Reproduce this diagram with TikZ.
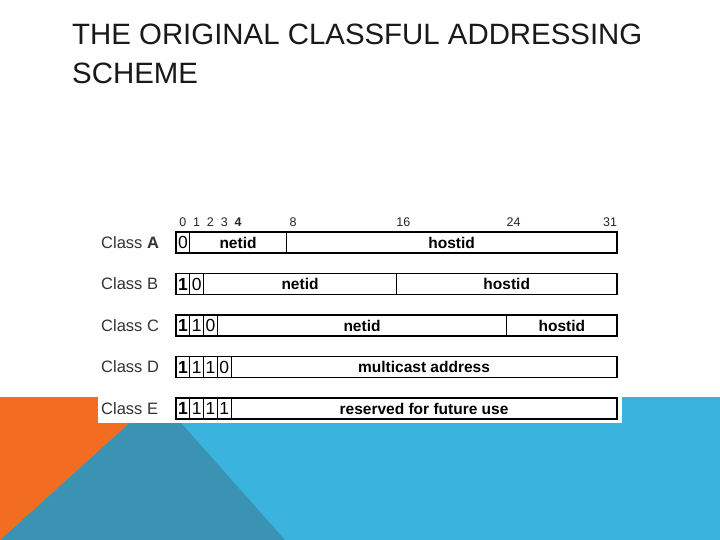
\documentclass[tikz,border=0pt]{standalone}
\usepackage{fontspec}
\setmainfont{Liberation Sans}
\definecolor{orng}{HTML}{F26D21}
\definecolor{tealb}{HTML}{3A93B3}
\definecolor{lblue}{HTML}{3BB3DF}
\begin{document}
\begin{tikzpicture}[x=1pt,y=-1pt,
  field/.style={font=\fontsize{15.5}{18}\selectfont\bfseries, inner sep=0pt},
  bitno/.style={font=\fontsize{17.5}{18}\selectfont, inner sep=0pt},
  bitb/.style={font=\fontsize{17.5}{18}\selectfont\bfseries, inner sep=0pt},
  cls/.style={anchor=west, inner sep=0pt, font=\fontsize{16.5}{18}\selectfont, text=black!80},
  bitpos/.style={font=\fontsize{12.5}{14}\selectfont, inner sep=0pt, text=black!85},
  ttl/.style={anchor=base west, inner sep=0pt, font=\fontsize{29.4}{39}\selectfont, text=black!90},
  boxline/.style={line width=1.3pt},
  divline/.style={line width=1pt}]
\useasboundingbox (0,0) rectangle (720,540);
\fill[white] (0,0) rectangle (720,540);
% background band
\fill[lblue] (0,397) rectangle (720,540);
\fill[tealb] (158,397) -- (285,540) -- (0,540) -- cycle;
\fill[orng] (0,397) -- (158,397) -- (0,540) -- cycle;
\fill[white] (98,200) rectangle (622,423);
% title
\node[ttl] (t1) at (72,45) {THE ORIGINAL CLASSFUL ADDRESSING};
\node[ttl] (t2) at (72,84) {SCHEME};
% class labels
\node[cls] (ca) at (101,242.5) {Class \textbf{A}};
\node[cls] (cb) at (101,284) {Class B};
\node[cls] (cc) at (101,325.5) {Class C};
\node[cls] (cd) at (101,367) {Class D};
\node[cls] (ce) at (101,408.5) {Class E};
\begin{scope}[shift={(176,0)}, x=13.78pt]
% bit positions
\node[bitpos] (p0) at (0.5,222) {0};
\node[bitpos] (p1) at (1.5,222) {1};
\node[bitpos] (p2) at (2.5,222) {2};
\node[bitpos] (p3) at (3.5,222) {3};
\node[bitpos,font=\fontsize{12.5}{14}\selectfont\bfseries] (p4) at (4.5,222) {4};
\node[bitpos] (p8) at (8.5,222) {8};
\node[bitpos] (p16) at (16.5,222) {16};
\node[bitpos] (p24) at (24.5,222) {24};
\node[bitpos] (p31) at (31.5,222) {31};
% Class A
\draw[boxline] (0,232) rectangle (32,253);
\draw[divline] (1,232) -- (1,253) (8,232) -- (8,253);
\node[bitno] (a0) at (0.5,242.5) {0};
\node[field] (anet) at (4.5,242.5) {netid};
\node[field] (ahost) at (20,242.5) {hostid};
% Class B
\draw[boxline] (0,273.5) rectangle (32,294.5);
\draw[divline] (1,273.5) -- (1,294.5) (2,273.5) -- (2,294.5) (16,273.5) -- (16,294.5);
\node[bitb] (b0) at (0.5,284) {1};
\node[bitno] (b1) at (1.5,284) {0};
\node[field] (bnet) at (9,284) {netid};
\node[field] (bhost) at (24,284) {hostid};
% Class C
\draw[boxline] (0,315) rectangle (32,336);
\draw[divline] (1,315) -- (1,336) (2,315) -- (2,336) (3,315) -- (3,336) (24,315) -- (24,336);
\node[bitb] (c0) at (0.5,325.5) {1};
\node[bitno] (c1) at (1.5,325.5) {1};
\node[bitno] (c2) at (2.5,325.5) {0};
\node[field] (cnet) at (13.5,325.5) {netid};
\node[field] (chost) at (28,325.5) {hostid};
% Class D
\draw[boxline] (0,356.5) rectangle (32,377.5);
\draw[divline] (1,356.5) -- (1,377.5) (2,356.5) -- (2,377.5) (3,356.5) -- (3,377.5) (4,356.5) -- (4,377.5);
\node[bitb] (d0) at (0.5,367) {1};
\node[bitno] (d1) at (1.5,367) {1};
\node[bitno] (d2) at (2.5,367) {1};
\node[bitno] (d3) at (3.5,367) {0};
\node[field] (dm) at (18,367) {multicast address};
% Class E
\draw[boxline] (0,398) rectangle (32,419);
\draw[divline] (1,398) -- (1,419) (2,398) -- (2,419) (3,398) -- (3,419) (4,398) -- (4,419);
\node[bitb] (e0) at (0.5,408.5) {1};
\node[bitno] (e1) at (1.5,408.5) {1};
\node[bitno] (e2) at (2.5,408.5) {1};
\node[bitno] (e3) at (3.5,408.5) {1};
\node[field] (er) at (18,408.5) {reserved for future use};
\end{scope}
\end{tikzpicture}
\end{document}
